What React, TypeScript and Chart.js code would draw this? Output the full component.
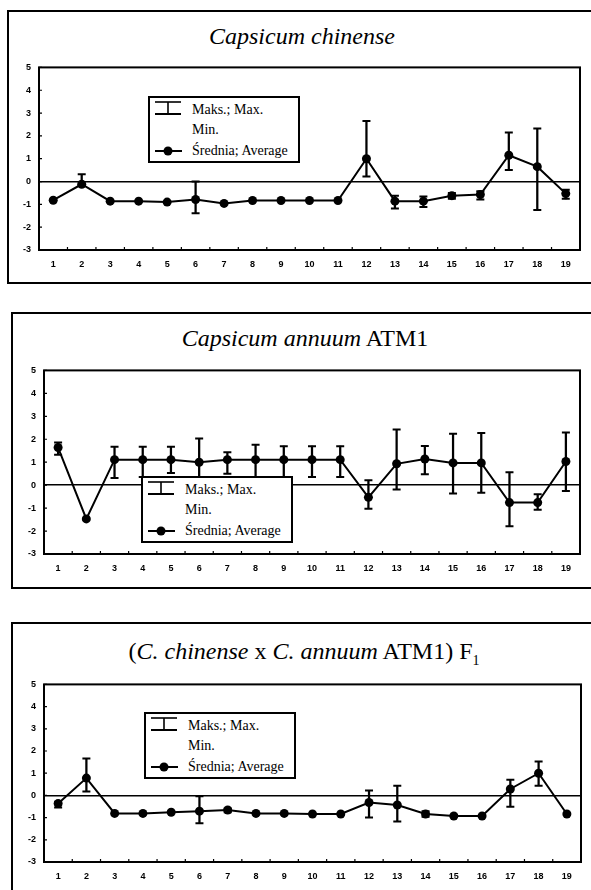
import React, { useEffect, useRef } from "react";
import { Chart, registerables } from "chart.js";
Chart.register(...registerables);

const categories = ["1","2","3","4","5","6","7","8","9","10","11","12","13","14","15","16","17","18","19"];
const yTicks = [-3, -2, -1, 0, 1, 2, 3, 4, 5];

// Capsicum chinense
const chinenseMean = [-0.82, -0.12, -0.86, -0.86, -0.9, -0.79, -0.96, -0.83, -0.83, -0.83, -0.83, 1.0, -0.86, -0.86, -0.62, -0.57, 1.15, 0.65, -0.53];
const chinenseMax = [null, 0.32, null, null, null, 0.0, null, null, null, null, null, 2.65, -0.62, -0.66, -0.5, -0.43, 2.15, 2.32, -0.36];
const chinenseMin = [null, -0.2, null, null, null, -1.39, null, null, null, null, null, 0.22, -1.18, -1.12, -0.75, -0.79, 0.5, -1.25, -0.76];

// Capsicum annuum ATM1
const annuumMean = [1.64, -1.47, 1.11, 1.11, 1.11, 1.0, 1.11, 1.11, 1.11, 1.11, 1.11, -0.53, 0.93, 1.14, 0.97, 0.97, -0.76, -0.76, 1.03];
const annuumMax = [1.86, null, 1.67, 1.67, 1.67, 2.03, 1.43, 1.76, 1.7, 1.7, 1.7, 0.21, 2.43, 1.71, 2.24, 2.27, 0.56, -0.4, 2.29];
const annuumMin = [1.33, null, 0.31, 0.36, 0.53, 0.35, 0.5, 0.36, 0.36, 0.36, 0.36, -1.03, -0.19, 0.47, -0.36, -0.33, -1.79, -1.07, -0.26];

// (C. chinense x C. annuum ATM1) F1
const hybridMean = [-0.37, 0.78, -0.81, -0.81, -0.76, -0.71, -0.66, -0.81, -0.81, -0.84, -0.84, -0.32, -0.43, -0.84, -0.93, -0.93, 0.29, 1.0, -0.84];
const hybridMax = [-0.29, 1.66, null, null, null, -0.04, -0.59, null, null, null, null, 0.22, 0.44, -0.71, null, null, 0.71, 1.53, null];
const hybridMin = [-0.54, 0.18, null, null, null, -1.25, -0.76, null, null, null, null, -1.0, -1.18, -0.96, null, null, -0.51, 0.44, null];

const legendMax = "Maks.; Max.";
const legendMin = "Min.";
const legendAvg = "Średnia; Average";

const SERIF = '"Times New Roman", "Liberation Serif", Times, "DejaVu Serif", serif';
const TICK_FONT = { family: '"Liberation Sans", Arial, sans-serif', size: 9, weight: "bold" as const };

type Plot = { left: number; top: number; right: number; bottom: number };

const YW = 22;
const XH = 22;

const framePlugin = {
  id: "frameTicks",
  afterDraw(chart: any) {
    const { ctx, chartArea: a, scales } = chart;
    const x = scales.x;
    const y = scales.y;
    ctx.save();
    ctx.strokeStyle = "#000";
    ctx.lineWidth = 1.2;
    ctx.beginPath();
    const n = chart.data.labels.length;
    for (let i = 0; i < n - 1; i++) {
      const px = (x.getPixelForValue(i) + x.getPixelForValue(i + 1)) / 2;
      ctx.moveTo(px, a.bottom);
      ctx.lineTo(px, a.bottom - 3);
    }
    y.ticks.forEach((t: any) => {
      const py = y.getPixelForValue(t.value);
      ctx.moveTo(a.left, py);
      ctx.lineTo(a.left + 3, py);
    });
    ctx.stroke();
    ctx.lineWidth = 2;
    ctx.strokeRect(a.left, a.top, a.right - a.left, a.bottom - a.top);
    ctx.restore();
  },
};

function PanelChart({ plot, mean, max, min }: { plot: Plot; mean: number[]; max: (number | null)[]; min: (number | null)[] }) {
  const ref = useRef<HTMLCanvasElement>(null);
  const canvasTop = plot.top - 10;
  const h = plot.bottom - plot.top + 10 + 26;
  useEffect(() => {
    if (!ref.current) return;
    const bars = min.map((m, i) => (m == null || max[i] == null ? null : [m, max[i] as number]));
    const chart = new Chart(ref.current, {
      type: "line",
      data: {
        labels: categories,
        datasets: [
          {
            type: "line",
            data: mean,
            borderColor: "#000",
            borderWidth: 2,
            pointRadius: 4.5,
            pointBackgroundColor: "#000",
            pointBorderColor: "#000",
            pointBorderWidth: 0,
            order: 0,
          } as any,
          {
            type: "bar",
            data: bars as any,
            backgroundColor: "#000",
            barThickness: 1.6,
            grouped: false,
            order: 2,
          } as any,
          {
            type: "line",
            data: max,
            showLine: false,
            pointStyle: "line",
            pointRadius: 4,
            pointBorderWidth: 2,
            pointBorderColor: "#000",
            borderColor: "#000",
            order: 1,
          } as any,
          {
            type: "line",
            data: min,
            showLine: false,
            pointStyle: "line",
            pointRadius: 4,
            pointBorderWidth: 2,
            pointBorderColor: "#000",
            borderColor: "#000",
            order: 1,
          } as any,
        ],
      },
      options: {
        animation: false,
        responsive: false,
        devicePixelRatio: 1,
        layout: {
          padding: { left: plot.left - YW, right: 591 - plot.right, top: 10, bottom: 26 - XH },
        },
        plugins: { legend: { display: false }, tooltip: { enabled: false }, title: { display: false } },
        scales: {
          x: {
            type: "category",
            offset: true,
            grid: { display: false, drawTicks: false },
            border: { display: false },
            ticks: { color: "#000", font: TICK_FONT, padding: 9, maxRotation: 0, autoSkip: false },
            afterFit(s: any) { s.height = XH; },
          },
          y: {
            min: -3,
            max: 5,
            afterBuildTicks(s: any) { s.ticks = yTicks.map((v) => ({ value: v })); },
            grid: {
              color: (c: any) => (c.tick && c.tick.value === 0 ? "#000" : "rgba(0,0,0,0)"),
              lineWidth: 1.6,
              drawTicks: false,
            },
            border: { display: false },
            ticks: { color: "#000", font: TICK_FONT, padding: 8 },
            afterFit(s: any) { s.width = YW; },
          },
        },
      },
      plugins: [framePlugin],
    } as any);
    return () => chart.destroy();
  }, []);
  return (
    <canvas
      ref={ref}
      width={591}
      height={h}
      style={{ position: "absolute", left: 0, top: canvasTop, width: 591, height: h }}
    />
  );
}

function Legend({ left, top }: { left: number; top: number }) {
  const text: React.CSSProperties = {
    position: "absolute",
    left: 42,
    fontFamily: SERIF,
    fontSize: 14,
    lineHeight: "16px",
    color: "#000",
    whiteSpace: "nowrap",
  };
  return (
    <div
      style={{
        position: "absolute",
        left,
        top,
        width: 152,
        height: 67,
        boxSizing: "border-box",
        border: "2px solid #000",
        background: "#fff",
        zIndex: 3,
      }}
    >
      <svg width={40} height={67} style={{ position: "absolute", left: -2, top: -2 }}>
        <line x1={7} y1={6} x2={33} y2={6} stroke="#000" strokeWidth={1.6} />
        <line x1={20} y1={6} x2={20} y2={18} stroke="#000" strokeWidth={1.6} />
        <line x1={7} y1={18} x2={33} y2={18} stroke="#000" strokeWidth={2} />
        <line x1={7} y1={55} x2={34} y2={55} stroke="#000" strokeWidth={2} />
        <circle cx={20} cy={55} r={4.5} fill="#000" />
      </svg>
      <div style={{ ...text, top: 4 }}>{legendMax}</div>
      <div style={{ ...text, top: 24 }}>{legendMin}</div>
      <div style={{ ...text, top: 45 }}>{legendAvg}</div>
    </div>
  );
}

function Title({ cx, cy, children }: { cx: number; cy: number; children: React.ReactNode }) {
  return (
    <div
      style={{
        position: "absolute",
        left: cx - 250,
        width: 500,
        top: cy - 15,
        height: 30,
        lineHeight: "30px",
        textAlign: "center",
        fontFamily: SERIF,
        fontSize: 24,
        color: "#000",
        whiteSpace: "nowrap",
        zIndex: 2,
      }}
    >
      {children}
    </div>
  );
}

function Frame({ left, top, width, height }: { left: number; top: number; width: number; height: number }) {
  return (
    <div
      style={{
        position: "absolute",
        left,
        top,
        width,
        height,
        boxSizing: "border-box",
        border: "2px solid #000",
      }}
    />
  );
}

export default function App() {
  return (
    <div
      style={{
        position: "fixed",
        left: 0,
        top: 0,
        width: 591,
        height: 890,
        overflow: "hidden",
        background: "#fff",
      }}
    >
      <Frame left={7} top={10} width={600} height={274} />
      <Frame left={11} top={312} width={600} height={277} />
      <Frame left={11} top={622} width={600} height={300} />

      <Title cx={302} cy={36}>
        <i>Capsicum chinense</i>
      </Title>
      <Title cx={305} cy={338}>
        <i>Capsicum annuum</i> ATM1
      </Title>
      <Title cx={304} cy={651}>
        (<i>C. chinense</i> x <i>C. annuum</i> ATM1) F<sub style={{ fontSize: 14 }}>1</sub>
      </Title>

      <PanelChart plot={{ left: 39, top: 64, right: 580, bottom: 250 }} mean={chinenseMean} max={chinenseMax} min={chinenseMin} />
      <PanelChart plot={{ left: 44, top: 367, right: 580, bottom: 554 }} mean={annuumMean} max={annuumMax} min={annuumMin} />
      <PanelChart plot={{ left: 44, top: 681, right: 581, bottom: 862 }} mean={hybridMean} max={hybridMax} min={hybridMin} />

      <Legend left={148} top={96} />
      <Legend left={141} top={476} />
      <Legend left={144} top={712} />
    </div>
  );
}
